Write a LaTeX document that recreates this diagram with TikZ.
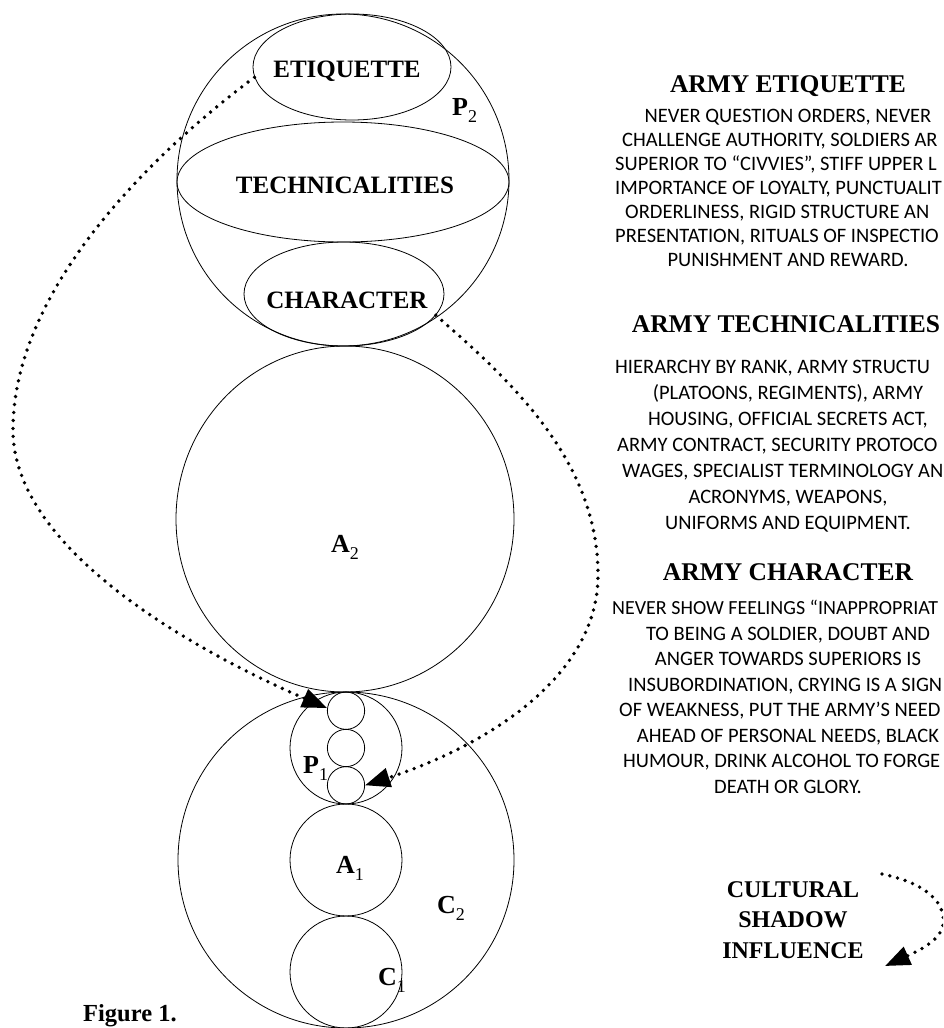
\documentclass[tikz,border=0pt]{standalone}
\usepackage{fontspec}
\setmainfont{Liberation Serif}
\newfontfamily\bodyfont{Carlito}
\usetikzlibrary{arrows.meta,shapes.geometric}
\newcommand\sublab[2]{\textbf{#1}\raisebox{-7pt}{\fontsize{18}{18}\selectfont\mdseries #2}}
\begin{document}
\begin{tikzpicture}[x=1pt,y=-1pt,
  ring/.style={circle,draw,line width=0.8pt,inner sep=0pt},
  oval/.style={ellipse,draw,line width=0.8pt,inner sep=0pt},
  lbl/.style={font=\fontsize{25}{25}\selectfont\bfseries,inner sep=0pt,anchor=base},
  sym/.style={font=\fontsize{26}{26}\selectfont,inner sep=0pt,anchor=base west},
  head/.style={font=\fontsize{25.5}{25.5}\selectfont\bfseries,inner sep=0pt,anchor=base},
  body/.style={font=\bodyfont\fontsize{20.5}{20.5}\selectfont,inner sep=0pt,anchor=base},
  bodyw/.style={body,anchor=base west},
  infl/.style={line width=3.8pt,dash pattern=on 0pt off 8pt,line cap=round,
    -{Triangle[length=25pt,width=19pt]}},
]
\useasboundingbox (0,0) rectangle (943,1028);
\clip (0,0) rectangle (943,1028);
% top circle P2 and its ellipses
\node[ring,minimum size=332pt] (P2) at (343,180) {};
\node[oval,minimum width=198pt,minimum height=106pt] (etq) at (352,67) {};
\node[oval,minimum width=332pt,minimum height=120pt] (tec) at (343,182) {};
\node[oval,minimum width=200pt,minimum height=104pt] (chr) at (344,294) {};
\node[lbl] (etqt) at (347,77) {ETIQUETTE};
\node[lbl] (tect) at (345,193) {TECHNICALITIES};
\node[lbl] (chrt) at (347,308) {CHARACTER};
\node[sym] (p2l) at (452,115) {\sublab{P}{2}};
% middle circle A2
\node[ellipse,draw,line width=0.8pt,inner sep=0pt,minimum width=338pt,minimum height=346pt] (A2) at (345,519) {};
\node[sym] (a2l) at (331,552) {\sublab{A}{2}};
% bottom circle C2
\node[ring,minimum size=336pt] (C2) at (346,860) {};
\node[ring,minimum size=112pt] (P1) at (346,748) {};
\node[ring,minimum size=37.3pt] (s1) at (346,710.7) {};
\node[ring,minimum size=37.3pt] (s2) at (346,748) {};
\node[ring,minimum size=37.3pt] (s3) at (346,785.3) {};
\node[ring,minimum size=112pt] (A1) at (346,860) {};
\node[ring,minimum size=112pt] (C1) at (346,972) {};
\node[sym] (p1l) at (303,773) {\sublab{P}{1}};
\node[sym] (a1l) at (336,873) {\sublab{A}{1}};
\node[sym] (c2l) at (437,913) {\sublab{C}{2}};
\node[sym] (c1l) at (378,985) {\sublab{C}{1}};
% influence arrows
\draw[infl] (etq.186) .. controls (132,169) and (13,300) .. (13,430)
  .. controls (13,560) and (227,665) .. (s1.172);
\draw[infl] (chr.-13) .. controls (510,380) and (598,460) .. (598,575)
  .. controls (598,680) and (480,748) .. (s3.east);
% right column
\node[head] (h1) at (788,92) {ARMY ETIQUETTE};
\node[body] (e1) at (788,122) {NEVER QUESTION ORDERS, NEVER};
\node[bodyw] (e2) at (622,146) {CHALLENGE AUTHORITY, SOLDIERS AR};
\node[bodyw] (e3) at (615,170) {SUPERIOR TO “CIVVIES”, STIFF UPPER L};
\node[bodyw] (e4) at (615,194) {IMPORTANCE OF LOYALTY, PUNCTUALIT};
\node[bodyw] (e5) at (625,218) {ORDERLINESS, RIGID STRUCTURE AN};
\node[bodyw] (e6) at (615,242) {PRESENTATION, RITUALS OF INSPECTIO};
\node[body] (e7) at (788,266) {PUNISHMENT AND REWARD.};
\node[head] (h2) at (786,332) {ARMY TECHNICALITIES};
\node[bodyw] (t1) at (615,373) {HIERARCHY BY RANK, ARMY STRUCTU};
\node[body] (t2) at (788,399) {(PLATOONS, REGIMENTS), ARMY};
\node[body] (t3) at (788,425) {HOUSING, OFFICIAL SECRETS ACT,};
\node[bodyw] (t4) at (617,451) {ARMY CONTRACT, SECURITY PROTOCO};
\node[bodyw] (t5) at (622,477) {WAGES, SPECIALIST TERMINOLOGY AN};
\node[body] (t6) at (788,503) {ACRONYMS, WEAPONS,};
\node[body] (t7) at (788,529) {UNIFORMS AND EQUIPMENT.};
\node[head] (h3) at (788,580) {ARMY CHARACTER};
\node[bodyw,font=\bodyfont\fontsize{20}{20}\selectfont] (c1) at (612,614) {NEVER SHOW FEELINGS “INAPPROPRIAT};
\node[body] (c2) at (788,640) {TO BEING A SOLDIER, DOUBT AND};
\node[body] (c3) at (788,665) {ANGER TOWARDS SUPERIORS IS};
\node[bodyw] (c4) at (628,691) {INSUBORDINATION, CRYING IS A SIGN};
\node[bodyw] (c5) at (619,716) {OF WEAKNESS, PUT THE ARMY’S NEED};
\node[body] (c6) at (788,742) {AHEAD OF PERSONAL NEEDS, BLACK};
\node[bodyw] (c7) at (623,767) {HUMOUR, DRINK ALCOHOL TO FORGE};
\node[body] (c8) at (788,793) {DEATH OR GLORY.};
% legend
\node[head,font=\fontsize{24}{24}\selectfont\bfseries] (g1) at (793,897) {CULTURAL};
\node[head,font=\fontsize{24}{24}\selectfont\bfseries] (g2) at (793,927) {SHADOW};
\node[head,font=\fontsize{24}{24}\selectfont\bfseries] (g3) at (793,958) {INFLUENCE};
\coordinate (ls) at (882,874);
\coordinate (le) at (885,966);
\draw[infl] (ls) .. controls (930,884) and (946,905) .. (943,925)
  .. controls (941,938) and (925,948) .. (le);
% caption
\node[lbl,font=\fontsize{24.5}{24.5}\selectfont\bfseries,anchor=base west] (fig) at (83,1021) {Figure 1.};
\end{tikzpicture}
\end{document}
